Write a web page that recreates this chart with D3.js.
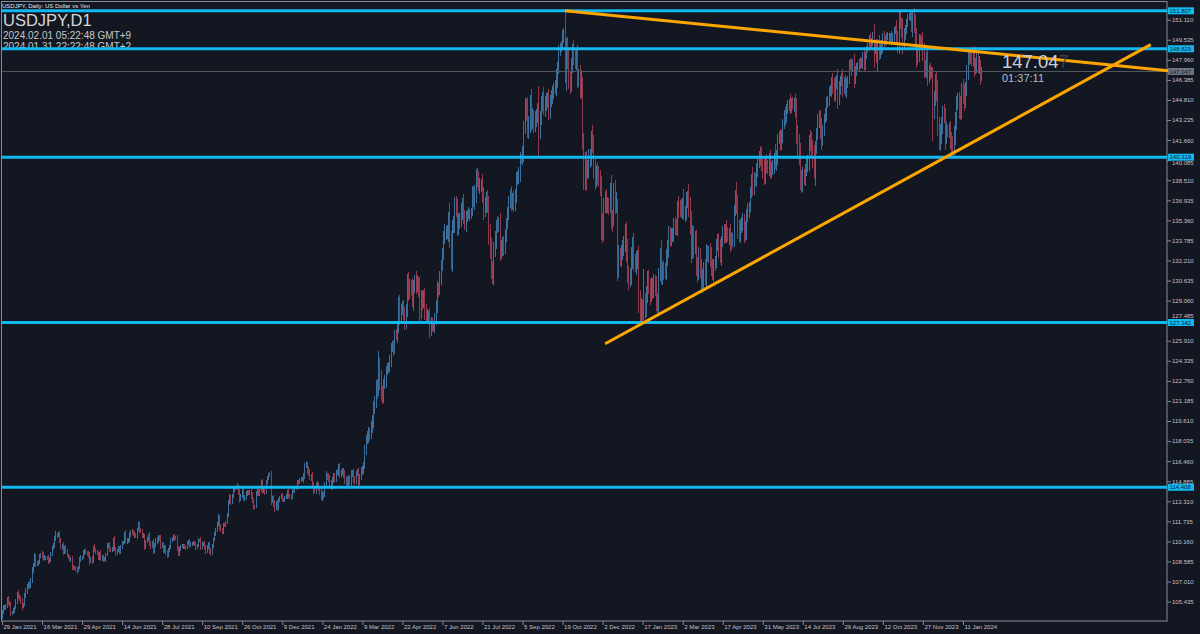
<!DOCTYPE html>
<html>
<head>
<meta charset="utf-8">
<script src="https://cdn.jsdelivr.net/npm/d3@7/dist/d3.min.js"></script>
<style>
html, body { margin: 0; padding: 0; background: #131722; }
svg { display: block; }
</style>
</head>
<body>
<div id="chart"></div>
<script>
var headerText = "USDJPY, Daily:  US Dollar vs Yen";
var symbolTitle = "USDJPY,D1";
var timeLines = ["2024.02.01 05:22:48  GMT+9", "2024.01.31 22:22:48  GMT+2"];
var countdown = "01:37:11";

// daily closes, one bar per trading day from 29 Jan 2021
var firstOpen = 104.30;
var closes2021 = [104.68,
  104.94,104.99,105.02,105.56,105.39,105.23,104.57,104.58,104.72,104.95,105.40,106.04,105.86,105.69,105.45,105.06,105.24,105.90,106.23,106.57,
  106.75,106.68,107.02,107.96,108.35,108.90,108.48,108.41,108.53,109.03,109.15,109.00,108.85,108.87,108.88,108.87,108.58,108.71,109.19,109.63,109.80,110.35,110.70,
  110.63,110.70,110.18,109.73,109.84,109.26,109.67,109.38,109.07,108.92,108.78,108.78,108.14,108.10,108.08,107.96,107.89,108.09,108.71,108.89,108.89,109.31,
  109.40,109.29,109.21,109.07,108.59,108.80,108.62,109.68,109.50,109.36,109.21,108.89,109.23,108.77,108.95,108.75,108.75,109.13,109.83,109.84,109.55,
  109.49,109.55,110.29,109.54,109.25,109.48,109.63,109.33,109.66,110.06,110.07,110.69,110.20,110.21,110.27,110.66,110.92,110.87,110.76,110.63,110.51,111.11,
  111.55,111.05,110.97,110.61,110.63,109.75,110.15,110.35,110.62,109.96,109.83,110.07,109.46,109.85,110.28,110.14,110.55,110.39,109.79,109.93,109.46,109.71,
  109.31,109.05,109.48,109.78,110.25,110.28,110.58,110.41,110.40,109.59,109.23,109.59,109.77,109.77,109.79,109.70,109.67,110.01,110.10,109.84,109.93,110.02,
  110.02,109.92,109.71,109.83,110.26,110.25,109.71,109.93,110.01,109.68,109.39,109.71,109.96,109.40,109.23,109.77,110.33,110.74,111.00,111.50,111.99,111.29,
  111.05,110.93,111.45,111.42,111.64,112.22,113.27,113.60,113.26,113.69,114.21,114.34,114.39,114.36,114.00,113.46,113.72,114.13,113.56,113.59,113.95,
  114.05,113.95,114.07,113.77,113.39,112.88,112.87,113.93,114.08,113.89,114.14,114.82,114.12,114.25,114.00,114.83,115.11,115.42,115.36,113.38,113.48,113.14,
  112.79,113.18,112.80,113.47,113.57,113.73,113.47,113.42,113.57,113.72,114.05,113.72,113.68,113.62,114.12,114.10,114.42,114.38,114.86,114.82,114.97,115.08,115.08];
var closes2022 = [
  115.31,116.13,116.13,115.82,115.56,115.21,115.28,114.65,114.22,114.21,114.59,114.59,114.33,114.13,113.69,113.86,113.81,114.66,115.35,115.26,115.11,
  114.68,114.52,114.98,115.26,115.09,115.59,115.56,116.03,115.43,115.57,115.71,115.48,114.91,115.01,114.75,115.10,114.87,115.53,115.54,114.99,
  114.88,115.47,115.52,114.84,115.28,115.70,115.84,116.13,117.32,118.19,118.32,118.74,118.63,119.17,119.47,120.75,121.16,122.33,122.05,123.88,122.82,121.78,121.65,
  122.51,122.74,123.61,123.79,123.93,124.31,125.35,125.37,125.35,126.44,126.37,126.98,128.93,127.87,128.39,128.52,128.10,127.22,128.39,130.82,129.76,
  130.16,130.10,129.05,130.24,130.56,130.27,130.45,129.98,128.33,129.21,129.10,129.37,128.21,127.81,127.87,127.88,126.85,127.30,127.11,127.11,127.62,128.69,
  130.07,129.88,130.86,131.88,132.62,134.23,134.38,134.40,134.43,135.44,133.81,132.20,134.98,135.09,136.66,136.25,134.93,135.21,135.43,136.12,136.61,135.71,
  135.18,135.71,135.89,135.93,135.98,136.10,137.44,137.00,137.42,138.96,138.55,138.15,138.20,138.20,137.35,136.10,136.67,136.96,136.54,134.25,133.25,
  131.59,130.87,133.18,133.89,135.00,134.94,135.06,132.90,133.03,133.46,133.28,134.20,135.11,135.88,136.95,137.46,136.77,136.99,136.50,137.23,138.74,138.75,138.96,
  140.20,140.19,140.53,142.77,144.12,144.07,142.53,142.83,144.58,143.16,143.46,142.91,143.16,143.73,144.07,142.37,143.36,144.73,144.82,144.20,144.46,144.74,
  144.86,144.02,144.63,145.13,145.37,145.71,145.75,146.82,147.22,148.75,148.95,149.22,149.90,150.16,147.68,148.99,148.06,146.37,146.34,147.54,148.71,
  148.13,147.93,148.14,146.62,146.62,145.66,146.43,141.01,138.77,139.91,139.28,139.47,140.25,140.33,142.07,141.25,139.48,138.55,139.11,138.95,138.68,138.05,
  135.30,134.31,136.75,137.05,136.57,136.61,136.60,137.72,135.58,135.48,137.76,136.66,136.87,131.75,132.42,132.38,132.86,133.38,133.54,134.46,133.02,131.11];
var closes2023 = [
  130.71,131.01,132.43,133.39,132.08,131.88,132.25,132.45,129.12,127.87,128.53,128.16,128.88,128.39,129.60,130.67,130.16,129.53,130.23,129.88,130.34,130.09,
  128.94,128.66,131.19,132.62,131.07,131.42,131.40,131.34,132.41,133.18,134.12,133.95,134.15,134.24,134.95,134.89,134.71,136.48,136.22,136.20,
  136.14,136.73,135.85,135.91,137.16,137.34,136.21,134.99,133.25,134.22,133.43,133.72,131.78,131.39,132.50,131.42,130.70,130.73,131.46,130.87,132.82,132.69,132.86,
  132.48,131.70,131.31,131.79,132.15,133.57,133.70,133.12,132.58,133.77,134.44,134.10,134.70,134.20,134.13,134.26,133.71,133.65,133.93,136.28,
  137.47,136.57,134.67,134.25,134.84,135.12,135.22,134.36,134.51,135.72,136.12,136.38,137.59,138.72,137.96,138.58,138.57,139.50,139.98,140.60,140.42,139.82,139.34,
  138.80,139.95,139.59,139.58,140.12,139.21,139.35,139.63,140.23,140.06,140.27,141.82,141.96,141.48,141.92,143.11,143.73,143.49,144.08,144.48,144.68,144.30,
  144.65,144.50,144.69,144.10,142.13,141.35,140.40,138.58,138.48,138.82,138.74,139.31,139.78,140.06,141.76,141.48,140.94,140.27,139.40,141.15,142.29,
  143.31,143.33,142.56,141.76,142.47,143.37,143.75,144.71,144.94,145.55,145.56,146.35,145.85,145.36,146.20,146.27,144.82,145.82,146.43,146.54,145.84,146.14,145.54,
  146.22,146.49,147.71,147.69,147.29,147.83,146.56,147.11,147.45,147.47,147.86,147.64,147.87,148.35,147.58,148.36,148.88,149.06,149.64,149.32,149.36,
  149.90,149.03,149.08,148.50,149.32,148.51,148.74,149.13,149.79,149.58,149.51,149.83,149.83,149.86,149.86,149.70,149.87,150.26,150.39,149.63,149.11,151.68,
  150.95,150.48,149.40,150.04,150.36,150.95,151.37,151.52,151.70,150.37,151.34,150.75,149.58,148.33,148.41,149.56,149.54,149.45,148.68,147.42,147.23,148.19,
  146.82,147.19,147.17,147.28,144.19,144.95,146.18,145.40,142.90,141.91,142.16,142.81,143.70,143.59,142.07,142.41,142.40,142.42,141.80,141.39,141.00];
var closes2024 = [
  142.00,143.29,144.62,144.62,144.23,143.95,145.73,145.29,144.87,145.74,147.17,148.17,148.16,148.13,148.11,148.37,147.43,147.64,148.19,147.45,147.59,146.88,
  147.05];

// wicks above / below the candle body, in hundredths of a yen
var upWick2021 = [10,
  25,18,22,20,35,12,20,15,18,12,20,18,30,15,22,25,12,18,30,28,
  20,30,25,22,15,35,30,15,20,18,12,25,35,20,15,12,20,18,15,15,25,20,27,
  10,18,30,22,15,25,15,20,18,12,15,12,20,18,10,15,18,12,22,20,15,18,
  15,20,12,18,25,15,20,12,25,18,15,20,12,25,15,12,18,15,20,18,25,
  20,15,12,30,18,12,20,15,18,12,15,20,35,18,15,20,12,18,15,20,18,12,
  11,20,15,18,20,15,12,18,15,30,20,15,25,18,12,20,15,12,25,18,22,15,
  15,20,18,12,15,20,12,18,15,25,18,15,12,18,15,20,12,15,18,22,15,12,
  15,18,20,12,15,12,25,15,12,18,20,15,12,18,22,15,12,15,20,18,30,25,
  20,15,12,18,15,20,15,25,18,20,12,15,15,35,20,25,18,15,25,20,15,
  18,15,12,20,25,18,12,15,20,18,12,15,25,18,20,12,15,10,15,30,25,35,
  25,15,20,12,15,18,20,12,15,18,12,25,15,18,12,15,10,12,15,12,20,10,15];
var downWick2021 = [25,
  20,15,18,12,20,18,25,15,12,15,12,15,20,18,20,30,15,12,15,20,
  15,25,20,15,25,18,30,20,15,18,15,20,25,18,15,20,22,15,18,15,12,15,18,
  20,15,12,20,25,18,12,20,15,18,15,20,25,18,15,20,30,15,12,15,18,15,
  18,15,20,18,25,12,20,15,18,20,15,18,20,15,12,18,15,20,12,15,20,
  15,20,18,12,20,15,12,18,15,12,20,15,18,25,20,15,12,18,15,20,12,15,
  15,25,18,20,15,30,20,15,18,20,25,15,30,18,15,20,12,18,25,15,20,18,
  25,18,15,12,20,15,12,18,15,20,25,18,15,12,18,15,20,12,15,18,12,15,
  12,15,20,18,12,15,20,15,12,18,20,15,18,25,20,15,12,15,18,12,15,25,
  15,20,18,12,15,12,15,20,25,15,12,20,18,15,20,25,15,18,25,20,15,
  20,15,18,25,20,25,15,12,18,15,20,12,25,18,20,12,15,12,18,40,20,26,
  30,20,25,15,18,12,20,18,15,12,20,15,18,20,15,12,15,12,15,18,12,15,15];
var upWick2022 = [
  25,22,35,30,25,30,20,35,20,25,15,30,25,20,30,25,20,15,35,20,25,
  25,30,20,25,30,20,25,22,30,20,25,20,30,25,20,25,30,25,20,30,
  30,25,35,40,20,30,25,30,40,35,50,40,35,45,60,40,45,50,60,122,70,80,60,
  40,50,35,40,30,45,40,50,60,35,40,50,45,60,40,50,60,45,40,30,50,
  60,50,70,40,50,80,60,50,90,70,60,50,70,60,50,40,60,50,40,30,50,40,
  50,40,50,40,60,30,70,50,60,60,130,70,40,60,50,60,80,70,50,60,50,80,
  50,40,30,50,30,20,60,50,70,42,50,70,50,40,80,60,50,60,80,70,80,
  70,60,50,60,40,70,60,90,80,60,70,50,40,50,30,40,60,50,70,60,40,50,60,
  50,40,70,40,87,80,100,70,60,110,70,60,80,40,50,183,60,40,60,100,70,60,
  60,80,60,50,50,40,60,40,60,35,30,25,40,30,178,72,80,90,70,60,50,
  80,60,60,100,60,90,70,16,120,80,90,60,70,60,30,80,80,70,60,80,70,60,
  80,60,40,60,80,60,50,60,120,60,50,80,70,20,100,80,60,40,60,60,80,90];
var downWick2022 = [
  30,25,20,35,30,25,30,20,35,25,30,20,25,30,25,35,30,20,25,30,25,
  30,25,30,20,25,30,20,25,30,25,20,35,25,30,40,25,30,60,30,25,
  30,25,20,30,25,30,35,40,30,35,40,45,60,40,50,40,60,50,70,50,80,60,70,
  60,40,50,35,40,50,45,35,60,50,40,60,50,70,60,45,60,50,40,60,70,
  60,70,50,80,60,70,50,60,100,70,80,60,70,60,50,60,70,60,50,40,60,50,
  60,50,40,60,50,40,70,60,50,80,60,71,90,60,70,60,80,70,50,60,70,60,
  60,70,50,40,60,50,40,60,80,70,60,50,70,60,60,70,50,70,60,80,90,
  80,47,60,70,80,60,50,70,60,50,70,60,50,40,50,60,70,60,50,40,50,60,50,
  60,40,50,60,60,90,70,80,60,80,60,70,60,50,70,202,60,50,80,60,70,50,
  60,80,70,40,60,50,40,60,110,40,50,40,50,60,150,218,80,70,110,90,60,
  60,70,80,90,80,70,80,14,100,100,161,60,90,80,70,60,90,80,60,80,70,80,
  150,69,60,80,70,60,80,70,90,100,60,80,70,117,90,60,70,60,80,70,90,70];
var upWick2023 = [
  70,60,80,70,100,60,70,60,90,80,70,60,270,80,60,70,80,60,70,60,80,70,
  90,70,40,60,120,70,80,60,70,60,80,70,60,50,60,70,60,40,80,70,
  80,40,110,60,40,30,90,100,110,80,70,80,90,70,80,70,90,80,60,90,70,60,50,
  70,80,60,50,40,30,60,70,80,40,50,60,40,70,60,50,80,70,40,30,
  30,90,80,70,60,50,70,60,80,50,60,40,40,30,80,60,50,40,30,20,60,70,60,
  80,50,60,50,50,80,60,50,40,110,60,30,40,60,50,20,30,50,40,30,20,60,
  30,40,30,60,90,70,80,100,70,70,60,50,60,40,30,70,80,70,100,40,30,
  40,60,70,80,40,30,40,30,20,30,40,30,60,70,40,50,100,50,30,40,70,50,60,
  30,20,20,30,40,20,60,40,30,30,20,30,20,20,50,20,20,20,30,40,30,
  26,90,40,50,30,60,50,40,30,40,30,20,30,20,20,40,20,30,20,70,60,5,
  10,30,80,40,30,20,15,10,21,10,40,70,80,90,60,40,40,30,70,60,50,40,
  60,40,50,15,15,60,70,80,100,60,80,70,60,80,60,70,40,60,70,50,60];
var downWick2023 = [
  80,60,70,90,70,60,80,70,100,60,65,70,60,80,60,70,60,80,60,70,60,70,
  70,60,80,60,70,80,70,60,70,60,80,70,60,50,60,70,50,60,70,60,
  60,70,50,60,50,80,60,80,120,90,100,70,80,90,70,60,80,106,70,60,80,60,70,
  80,70,60,80,40,50,60,70,60,80,50,60,50,60,50,70,80,60,40,70,
  60,70,80,60,70,50,60,80,60,70,50,60,40,50,70,60,50,60,70,50,80,60,70,
  70,60,50,60,70,60,50,40,60,70,80,60,50,70,60,50,60,70,50,40,50,60,
  50,40,60,70,80,90,70,80,100,90,60,70,50,60,80,70,60,80,70,135,60,
  60,70,80,90,60,50,40,60,50,60,40,50,60,70,60,50,70,40,60,50,80,60,40,
  60,50,40,50,60,30,80,50,40,30,40,40,30,60,50,40,30,30,40,50,60,
  30,173,60,80,140,60,50,40,60,70,50,40,30,40,50,60,40,50,30,40,60,70,
  60,80,100,60,50,40,40,30,50,22,60,70,60,100,80,60,70,50,80,90,60,70,
  90,70,80,60,257,90,60,70,90,100,110,80,70,60,120,70,50,60,80,114,70];
var upWick2024 = [80,60,50,70,80,90,40,70,80,50,40,50,60,40,50,40,70,50,60,80,70,38,35];
var downWick2024 = [60,70,80,60,90,70,60,80,90,70,60,80,60,50,60,70,80,60,70,50,60,88,60];

var levelPrices = [151.807, 148.829, 140.319, 127.342, 114.408];
var bidPrice = 147.047;
var trendDown = [{bar: 450, price: 151.82}, {bar: 932, price: 147.10}];
var trendUp = [{bar: 482, price: 125.67}, {bar: 918, price: 149.15}];

var priceTicks = [151.110, 149.535, 147.960, 146.385, 144.810, 143.235, 141.660, 140.085, 138.510, 136.935,
  135.360, 133.785, 132.210, 130.635, 129.060, 127.485, 125.910, 124.335, 122.760, 121.185,
  119.610, 118.035, 116.460, 114.885, 113.310, 111.735, 110.160, 108.585, 107.010, 105.435];
var dateLabels = ["29 Jan 2021", "16 Mar 2021", "29 Apr 2021", "14 Jun 2021", "28 Jul 2021", "10 Sep 2021",
  "26 Oct 2021", "9 Dec 2021", "24 Jan 2022", "9 Mar 2022", "22 Apr 2022", "7 Jun 2022", "21 Jul 2022",
  "5 Sep 2022", "19 Oct 2022", "2 Dec 2022", "17 Jan 2023", "2 Mar 2023", "17 Apr 2023", "31 May 2023",
  "14 Jul 2023", "29 Aug 2023", "12 Oct 2023", "27 Nov 2023", "11 Jan 2024"];
var barsPerLabel = 32;

var width = 1200, height = 634;
var plotRight = 1167, plotBottom = 621;
var font = "'Liberation Sans', Arial, sans-serif";

var closes = closes2021.concat(closes2022, closes2023, closes2024);
var upWicks = upWick2021.concat(upWick2022, upWick2023, upWick2024);
var downWicks = downWick2021.concat(downWick2022, downWick2023, downWick2024);
var bars = closes.map(function(c, i) {
  var o = i == 0 ? firstOpen : closes[i - 1];
  return {
    i: i, open: o, close: c,
    high: Math.max(o, c) + (upWicks[i] || 0) / 100,
    low: Math.min(o, c) - (downWicks[i] || 0) / 100
  };
});

var svg = d3.select("#chart").append("svg")
  .attr("width", width)
  .attr("height", height);

svg.append("rect").attr("width", width).attr("height", height).attr("fill", "#131722");

var x = d3.scaleLinear().domain([0, 768]).range([2, 963]);
var y = d3.scaleLinear().domain([105.435, 151.110]).range([601.6, 19.7]);

// frame
svg.append("rect")
  .attr("x", 1.5).attr("y", 1.5)
  .attr("width", plotRight - 1.5).attr("height", plotBottom - 1.5)
  .attr("fill", "none")
  .attr("stroke", "#858c95")
  .attr("stroke-width", 1);

// header texts (drawn under the level lines)
svg.append("text")
  .attr("x", 2).attr("y", 7.5)
  .attr("font-family", font).attr("font-size", 6)
  .attr("fill", "#e4e4e4")
  .text(headerText);
svg.append("text")
  .attr("x", 3).attr("y", 26)
  .attr("font-family", font).attr("font-size", 16.5)
  .attr("fill", "#d6d6d6")
  .text(symbolTitle);
svg.selectAll(".timeline")
  .data(timeLines)
  .enter().append("text")
  .attr("class", "timeline")
  .attr("x", 3)
  .attr("y", function(d, i) { return 39 + i * 10.5; })
  .attr("font-family", font).attr("font-size", 10)
  .attr("fill", "#c8c8c8")
  .text(function(d) { return d; });

// candles (1px wide at this zoom, drawn low to high)
var plot = svg.append("g");
plot.selectAll(".bar")
  .data(bars)
  .enter().append("rect")
  .attr("class", "bar")
  .attr("x", function(d) { return x(d.i) - 0.5; })
  .attr("width", 1)
  .attr("y", function(d) { return y(d.high); })
  .attr("height", function(d) { return Math.max(1, y(d.low) - y(d.high)); })
  .attr("shape-rendering", "crispEdges")
  .attr("fill", function(d) { return d.close >= d.open ? "#3d6f9d" : "#92394f"; });

// bid line
svg.append("line")
  .attr("x1", 2).attr("x2", plotRight)
  .attr("y1", y(bidPrice)).attr("y2", y(bidPrice))
  .attr("stroke", "#555862").attr("stroke-width", 1);

// horizontal levels
svg.selectAll(".level")
  .data(levelPrices)
  .enter().append("line")
  .attr("class", "level")
  .attr("x1", 2).attr("x2", plotRight)
  .attr("y1", function(d) { return y(d); })
  .attr("y2", function(d) { return y(d); })
  .attr("stroke", "#12b8f0").attr("stroke-width", 3);

// trend lines
[trendDown, trendUp].forEach(function(t) {
  svg.append("line")
    .attr("x1", x(t[0].bar)).attr("y1", y(t[0].price))
    .attr("x2", x(t[1].bar)).attr("y2", y(t[1].price))
    .attr("stroke", "#ffa500").attr("stroke-width", 3)
    .attr("stroke-linecap", "butt");
});

// right price axis; tick labels hidden under a price box are left out
var boxPrices = levelPrices.concat([bidPrice]);
var yAxis = d3.axisRight(y)
  .tickValues(priceTicks)
  .tickSize(4)
  .tickPadding(1)
  .tickFormat(d3.format(".3f"));
var ga = svg.append("g")
  .attr("transform", "translate(" + plotRight + ",0)")
  .call(yAxis);
ga.select(".domain").remove();
ga.selectAll(".tick line").attr("stroke", "#858c95");
ga.selectAll(".tick text")
  .attr("font-family", font).attr("font-size", 6)
  .attr("fill", "#c6c0c6")
  .attr("dy", function(d) {
    var near = boxPrices.filter(function(p) { return Math.abs(y(p) - y(d)) < 6; });
    if (!near.length) return "0.32em";
    return (y(d) < y(near[0]) ? y(near[0]) - y(d) - 5.5 : y(near[0]) - y(d) + 7.5) + "px";
  });

// price boxes on the axis
var boxes = levelPrices.map(function(p) { return {p: p, fill: "#12b8f0", text: "#0e2233"}; })
  .concat([{p: bidPrice, fill: "#6b7480", text: "#161b24"}]);
var gb = svg.selectAll(".pbox")
  .data(boxes)
  .enter().append("g")
  .attr("class", "pbox")
  .attr("transform", function(d) { return "translate(" + (plotRight + 1) + "," + y(d.p) + ")"; });
gb.append("rect")
  .attr("x", 0).attr("y", -3.5)
  .attr("width", 26).attr("height", 7)
  .attr("fill", function(d) { return d.fill; });
gb.append("text")
  .attr("x", 1.5).attr("y", 2.2)
  .attr("font-family", font).attr("font-size", 6)
  .attr("fill", function(d) { return d.text; })
  .text(function(d) { return d3.format(".3f")(d.p); });

// bottom date axis
var xAxis = d3.axisBottom(x)
  .tickValues(dateLabels.map(function(d, i) { return i * barsPerLabel; }))
  .tickSize(4)
  .tickFormat(function(d, i) { return dateLabels[i]; });
var gx = svg.append("g")
  .attr("transform", "translate(0," + plotBottom + ")")
  .call(xAxis);
gx.select(".domain").remove();
gx.selectAll(".tick line").attr("stroke", "#858c95");
gx.selectAll(".tick text")
  .attr("text-anchor", "start")
  .attr("x", 1).attr("y", 4).attr("dy", "0.71em")
  .attr("font-family", font).attr("font-size", 6)
  .attr("fill", "#c6c0c6");

// big price and countdown
var bidText = d3.format(".3f")(bidPrice);
var big = svg.append("text")
  .attr("x", 1002).attr("y", 68)
  .attr("font-family", font).attr("font-size", 18.5);
big.append("tspan").attr("fill", "#c9ced4").text(bidText.slice(0, -1));
big.append("tspan").attr("fill", "#3a3f4a").text(bidText.slice(-1));
svg.append("text")
  .attr("x", 1002).attr("y", 81.5)
  .attr("font-family", font).attr("font-size", 11)
  .attr("fill", "#b8bcc2")
  .text(countdown);
</script>
</body>
</html>
